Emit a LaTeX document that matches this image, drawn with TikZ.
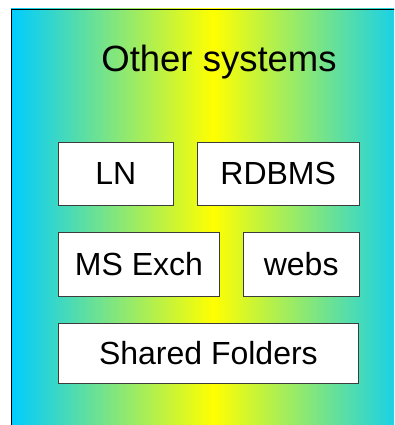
\documentclass[tikz,border=0pt]{standalone}
\usepackage{fontspec}
\setmainfont{Liberation Sans}
\usepackage{tikz}
\usetikzlibrary{positioning}
\usepackage{xcolor}
\definecolor{skycyan}{RGB}{0,204,255}
\definecolor{boxline}{RGB}{60,60,60}

\begin{document}
\begin{tikzpicture}[x=1pt,y=-1pt,
        sys/.style={draw=boxline,fill=white,line width=0.8pt,inner sep=0pt,
                    minimum height=63pt,font=\fontsize{32}{38}\selectfont}]
        \useasboundingbox (0,0) rectangle (394,425);
        \clip (0,0) rectangle (394,425);
        \shade[left color=skycyan,right color=skycyan,middle color=yellow,
               draw=black,line width=0.8pt] (11,9) rectangle (415,440);
        \node[anchor=base,font=\fontsize{36.5}{42}\selectfont] (title) at (219,72) {Other systems};
        \node[sys,minimum width=115pt,anchor=north west] (ln) at (58,142) {LN};
        \node[sys,minimum width=162pt] [right = 23pt of ln] (rdbms) {RDBMS};
        \node[sys,minimum width=161pt,minimum height=64pt] [below = 26pt of ln.south west,anchor=north west] (msx) {MS Exch};
        \node[sys,minimum width=116pt,minimum height=64pt] [right = 23pt of msx] (webs) {webs};
        \node[sys,minimum width=300pt,minimum height=60pt] [below = 26pt of msx.south west,anchor=north west] (shared) {Shared Folders};
    \end{tikzpicture}
\end{document}
